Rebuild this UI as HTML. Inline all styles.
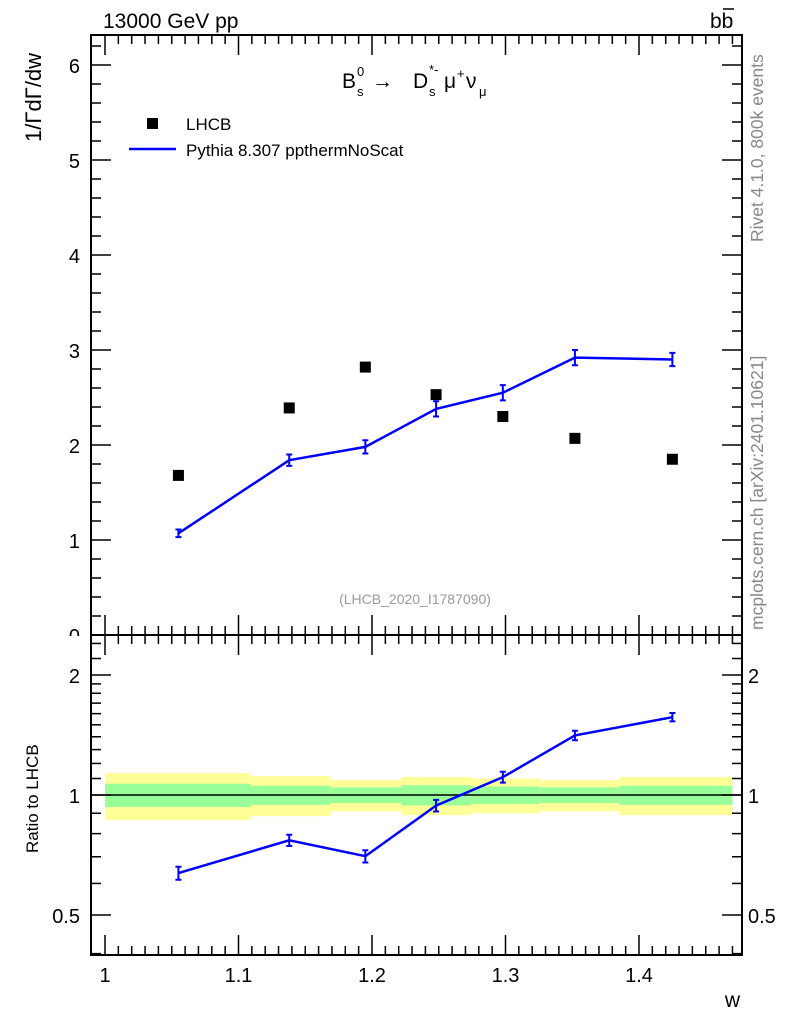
<!DOCTYPE html>
<html><head><meta charset="utf-8"><style>
html,body{margin:0;padding:0;background:#fff;}
svg{display:block;font-family:"Liberation Sans",sans-serif;}
</style></head><body>
<svg id="c" width="786" height="1024" viewBox="0 0 786 1024"></svg>
<script>
const wVals=[1.055,1.138,1.195,1.248,1.298,1.352,1.425];
const lhcbVals=[1.68,2.39,2.82,2.53,2.30,2.07,1.85];
const mcVals=[1.07,1.84,1.98,2.38,2.55,2.92,2.90];
const mcErr=[0.04,0.06,0.07,0.08,0.08,0.08,0.07];
const binEdges=[1.0,1.109,1.169,1.222,1.274,1.326,1.385,1.47];
const bandOuter=[0.135,0.115,0.09,0.11,0.10,0.09,0.11];
const bandInner=[0.067,0.055,0.045,0.058,0.05,0.045,0.055];
const xTicks=[1,1.1,1.2,1.3,1.4];
const xTickLabels=["1","1.1","1.2","1.3","1.4"];
const yTicks=[0,1,2,3,4,5,6];
const rTicks=[0.5,1,2];
const rTickLabels=["0.5","1","2"];

const NS="http://www.w3.org/2000/svg";
const svg=document.getElementById('c');
const L=91,R=742,T=35,MB=635,RB=955;
const X=v=>105+(v-1)*1335;
const Y=v=>635-v*95;
const RY=v=>795-Math.log10(v)*398.6;
function el(t,a,p){const e=document.createElementNS(NS,t);for(const k in a)e.setAttribute(k,a[k]);(p||svg).appendChild(e);return e;}
function txt(s,a){const e=el('text',a);e.textContent=s;return e;}

const gb=el('g',{});


for(let i=0;i<bandOuter.length;i++){
  const x1=X(binEdges[i]),x2=X(binEdges[i+1]);
  const r=el('rect',{x:x1,y:RY(1+bandOuter[i]),width:x2-x1,height:RY(1-bandOuter[i])-RY(1+bandOuter[i]),fill:'#ffff99'},gb);
  
  
  const g=el('rect',{x:x1,y:RY(1+bandInner[i]),width:x2-x1,height:RY(1-bandInner[i])-RY(1+bandInner[i]),fill:'#99ff99'},gb);
  
  
}
el('line',{x1:L,x2:R,y1:RY(1),y2:RY(1),stroke:'#000','stroke-width':1.5});

// y tick labels (drawn before frame so frame overlaps "0")
yTicks.forEach(v=>{const t=txt(String(v),{x:80,y:Y(v)+8,'font-size':20,'text-anchor':'end'});
});
el('rect',{x:60,y:MB+1,width:30,height:14,fill:'#fff'});

const f1=el('rect',{x:L,y:T,width:R-L,height:MB-T,fill:'none',stroke:'#000','stroke-width':2});


const f2=el('rect',{x:L,y:MB,width:R-L,height:RB-MB,fill:'none',stroke:'#000','stroke-width':2});



for(let k=0;k<=47;k++){
  const v=1+k*0.01;const x=X(v);if(x>R)break;
  const maj=k%10===0;const len=maj?20:9;
  for(const [yb,dir] of [[MB,-1],[T,1],[RB,-1],[MB,1]]){
    el('line',{x1:x,x2:x,y1:yb,y2:yb+dir*len,stroke:'#000','stroke-width':1.5});
  }
}
xTicks.forEach((v,i)=>{const t=txt(xTickLabels[i],{x:X(v),y:982,'font-size':20,'text-anchor':'middle'});
});
for(let k=0;k<=31;k++){
  const v=k*0.2;const y=Y(v);if(y<T)break;
  const maj=k%5===0;const len=maj?20:10;
  el('line',{x1:L,x2:L+len,y1:y,y2:y,stroke:'#000','stroke-width':1.5});
  el('line',{x1:R,x2:R-len,y1:y,y2:y,stroke:'#000','stroke-width':1.5});
}
const rMinor=[0.4,0.5,0.6,0.7,0.8,0.9,1,1.1,1.2,1.3,1.4,1.5,1.6,1.7,1.8,1.9,2,2.2,2.4];
rMinor.forEach(v=>{const y=RY(v);if(y<MB||y>RB)return;const maj=rTicks.includes(v);const len=maj?20:10;
  el('line',{x1:L,x2:L+len,y1:y,y2:y,stroke:'#000','stroke-width':1.5});
  el('line',{x1:R,x2:R-len,y1:y,y2:y,stroke:'#000','stroke-width':1.5});});
rTicks.forEach((v,i)=>{
  const t=txt(rTickLabels[i],{x:80,y:RY(v)+8,'font-size':20,'text-anchor':'end'});
  
  const t2=txt(rTickLabels[i],{x:748,y:RY(v)+8,'font-size':20});
  
});

lhcbVals.forEach((v,i)=>{const r=el('rect',{x:X(wVals[i])-5.5,y:Y(v)-5.5,width:11,height:11,fill:'#000'});
});
const mcPts=mcVals.map((v,i)=>X(wVals[i])+','+Y(v)).join(' ');
const ml=el('polyline',{points:mcPts,fill:'none',stroke:'#0000ff','stroke-width':2.5});

mcVals.forEach((v,i)=>{const x=X(wVals[i]);
  el('path',{d:`M${x},${Y(v+mcErr[i])}V${Y(v-mcErr[i])}M${x-3},${Y(v+mcErr[i])}h6M${x-3},${Y(v-mcErr[i])}h6`,stroke:'#0000ff','stroke-width':2,fill:'none'});});
const ratios=mcVals.map((v,i)=>v/lhcbVals[i]);
const rl=el('polyline',{points:ratios.map((r,i)=>X(wVals[i])+','+RY(r)).join(' '),fill:'none',stroke:'#0000ff','stroke-width':2.5});

ratios.forEach((r,i)=>{const x=X(wVals[i]);const e=mcErr[i]/lhcbVals[i];
  el('path',{d:`M${x},${RY(r+e)}V${RY(r-e)}M${x-3},${RY(r+e)}h6M${x-3},${RY(r-e)}h6`,stroke:'#0000ff','stroke-width':2,fill:'none'});});

let t;
t=txt('13000 GeV pp',{x:103,y:28,'font-size':21});
t=txt('bb',{x:710,y:28,'font-size':21});
el('line',{x1:723,x2:734,y1:9,y2:9,stroke:'#000','stroke-width':1.5});
t=txt('1/ΓdΓ/dw',{x:0,y:0,'font-size':22,transform:'translate(41,142) rotate(-90)'});
t=txt('Ratio to LHCB',{x:0,y:0,'font-size':17,transform:'translate(38,853) rotate(-90)'});
t=txt('w',{x:740,y:1007,'font-size':21,'text-anchor':'end'});
const fg=el('g',{'font-size':21});
el('text',{x:342,y:88},fg).textContent='B';
el('text',{x:357,y:76,'font-size':13},fg).textContent='0';
el('text',{x:357,y:96,'font-size':13},fg).textContent='s';
el('text',{x:372,y:88},fg).textContent='→';
el('text',{x:413,y:88},fg).textContent='D';
el('text',{x:429,y:74,'font-size':13},fg).textContent='*-';
el('text',{x:429,y:96,'font-size':13},fg).textContent='s';
el('text',{x:444,y:88},fg).textContent='μ';
el('text',{x:457,y:78,'font-size':13},fg).textContent='+';
el('text',{x:466,y:88},fg).textContent='ν';
el('text',{x:479,y:96,'font-size':13},fg).textContent='μ';
const lg=el('g',{});
el('rect',{x:147,y:118,width:11,height:11,fill:'#000'},lg);
el('text',{x:186,y:130,'font-size':17},lg).textContent='LHCB';
el('line',{x1:129,x2:176,y1:149,y2:149,stroke:'#0000ff','stroke-width':2.5},lg);
el('text',{x:186,y:156,'font-size':17},lg).textContent='Pythia 8.307 ppthermNoScat';
t=txt('(LHCB_2020_I1787090)',{x:415,y:604,'font-size':14,fill:'#999','text-anchor':'middle'});
t=txt('Rivet 4.1.0,  800k events',{x:0,y:0,'font-size':17.5,fill:'#888',transform:'translate(763,242) rotate(-90)'});
t=txt('mcplots.cern.ch [arXiv:2401.10621]',{x:0,y:0,'font-size':17.5,fill:'#888',transform:'translate(763,630) rotate(-90)'});
</script>
</body></html>
